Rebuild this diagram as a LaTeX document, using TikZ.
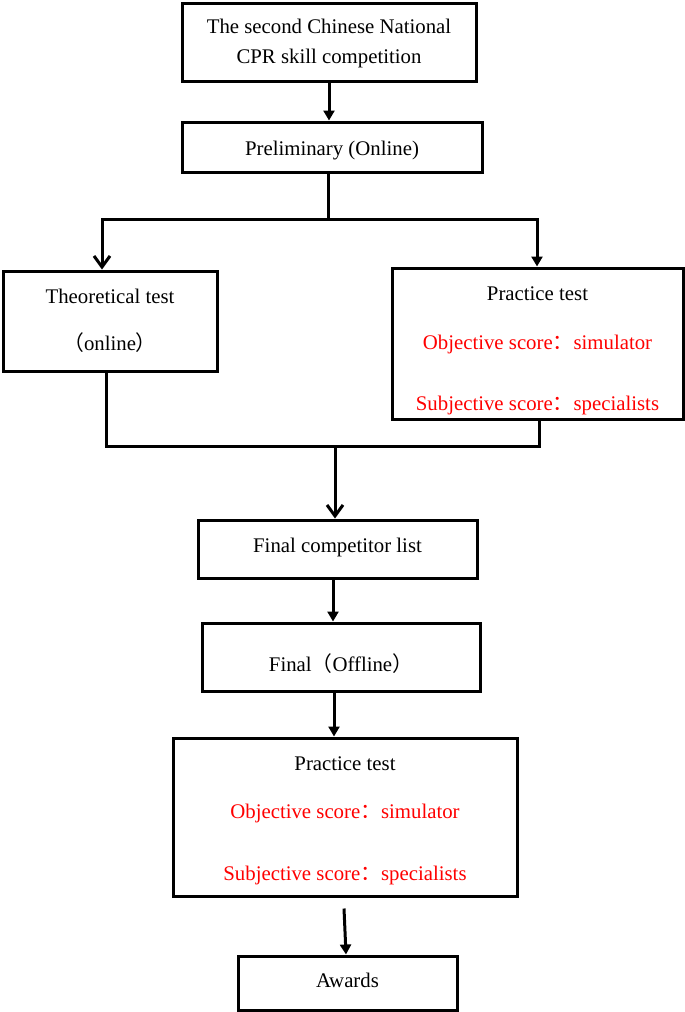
\documentclass[tikz,border=0pt]{standalone}
\usepackage{fontspec}
\setmainfont{Liberation Serif}
\newfontfamily\cjk{Noto Sans CJK SC}
\usepackage{tikz}
\usetikzlibrary{arrows.meta,calc}
\newcommand\fwcolon{{\cjk ：}}
\newcommand\fwlp{{\cjk （}}
\newcommand\fwrp{{\cjk ）}}
\newcommand\lift[1]{\rule{0pt}{#1}}
\tikzset{
stagebox/.style={draw=black,line width=1.5pt,align=center,inner sep=0pt,font=\fontsize{10.4pt}{15pt}\selectfont},
link/.style={black,line width=1.5pt},
solidarr/.style={link,-{Triangle[length=5pt,width=5.5pt]}},
openarr/.style={link,-{Straight Barb[length=5.5pt,width=8pt]}}
}

\begin{document}
\begin{tikzpicture}[x=0.5pt,y=-0.5pt]
\useasboundingbox (0,0) rectangle (685,1012);
\node[stagebox,minimum width=147pt,minimum height=39pt] (top) at (329,42) {\lift{9pt}The second Chinese National\\CPR skill competition};
\node[stagebox,minimum width=150pt,minimum height=25pt,text height=8pt,text depth=0pt] (prelim) at (332,147) {Preliminary (Online)};
\node[stagebox,minimum width=107pt,minimum height=50pt] (theory) at (110,321) {Theoretical test\\[8.5pt]\fwlp online\fwrp};
\node[stagebox,minimum width=145.5pt,minimum height=75.5pt] (practA) at (537.5,343.5) {\lift{14pt}Practice test\\[9.5pt]{\color{red}Objective score\fwcolon simulator}\\[15.5pt]{\color{red}Subjective score\fwcolon specialists}};
\node[stagebox,minimum width=139.5pt,minimum height=29pt,text height=6pt,text depth=3pt] (list) at (337.5,549) {Final competitor list};
\node[stagebox,minimum width=139pt,minimum height=34pt,text height=14pt,text depth=0pt] (final) at (341,657) {Final\fwlp Offline\fwrp};
\node[stagebox,minimum width=172pt,minimum height=79pt] (practB) at (345,817) {\lift{11pt}Practice test\\[9pt]{\color{red}Objective score\fwcolon simulator}\\[16pt]{\color{red}Subjective score\fwcolon specialists}};
\node[stagebox,minimum width=109.5pt,minimum height=27pt,text height=6pt,text depth=2pt] (awards) at (347.5,983) {Awards};
\coordinate (split) at (328,219);
\coordinate (splitL) at (102,219);
\coordinate (splitR) at (537,219);
\coordinate (merge) at (335,446);
\coordinate (mergeL) at (106,446);
\coordinate (mergeR) at (539,446);
\draw[solidarr] (top.south) -- (top.south |- prelim.north);
\draw[link] (328,0 |- prelim.south) -- (split);
\draw[openarr] (split) -- (splitL) -- (splitL |- theory.north);
\draw[solidarr] (split) -- (splitR) -- (splitR |- practA.north);
\draw[link] (mergeL |- theory.south) -- (mergeL) -- (mergeR) -- (mergeR |- practA.south);
\draw[openarr] (merge) -- (merge |- list.north);
\draw[solidarr] (333,0 |- list.south) -- (333,0 |- final.north);
\draw[solidarr] (334,0 |- final.south) -- (334,0 |- practB.north);
\draw[solidarr] ($(practB.south)+(-1,11)$) -- ($(awards.north)+(-1.5,0)$);
\end{tikzpicture}
\end{document}
